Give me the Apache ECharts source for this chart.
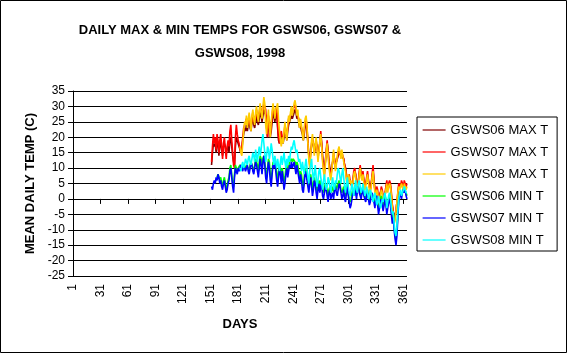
<!DOCTYPE html>
<html>
<head>
<meta charset="utf-8">
<script src="https://cdn.jsdelivr.net/npm/echarts@6/dist/echarts.min.js"></script>
<style>
  html, body { margin: 0; padding: 0; background: #fff; }
  #chart { width: 567px; height: 353px; }
</style>
</head>
<body>
<div id="chart"></div>
<script>
// days 1..365 on the category axis
const days = [];
for (let d = 1; d <= 365; d++) days.push(String(d));

const yTicks = [-25, -20, -15, -10, -5, 0, 5, 10, 15, 20, 25, 30, 35];

const seriesNames = ['GSWS06 MAX T', 'GSWS07 MAX T', 'GSWS08 MAX T', 'GSWS06 MIN T', 'GSWS07 MIN T', 'GSWS08 MIN T'];
const seriesColors = ['#800000', '#ff0000', '#ffcc00', '#00ff00', '#0000ff', '#00ffff'];

// first day of record for each series
const startDays = [152, 152, 183, 158, 152, 183];

// GSWS06 MAX T, day 152..365
const gsws06Max = [
  11, 15, 18, 17, 18, 15, 19, 18, 14,
  17, 19, 16, 14, 17, 18, 17, 15, 16, 18,
  15, 19, 20, 17, 14, 12, 11, 17, 20, 19,
  18, 17, 16, 15, 16, 19, 21, 23, 22, 24,
  22, 24, 26, 23, 22, 25, 26, 24, 23, 25,
  27, 25, 24, 26, 28, 27, 25, 27, 29, 28,
  27, 23, 20, 25, 23, 20, 22, 25, 28, 27,
  25, 27, 28, 23, 19, 18, 20, 21, 19, 18,
  20, 22, 21, 19, 22, 24, 25, 26, 27, 26,
  27, 28, 29, 28, 26, 27, 25, 23, 24, 22,
  21, 19, 21, 24, 25, 22, 18, 14, 12, 15,
  17, 19, 18, 15, 16, 18, 17, 14, 16, 18,
  21, 18, 14, 11, 9, 12, 15, 18, 16, 12,
  10, 8, 10, 12, 14, 13, 11, 12, 13, 14,
  15, 15, 14, 14, 14, 13, 11, 10, 8, 6,
  7, 7, 6, 5, 4, 6, 8, 9, 8, 5,
  4, 6, 8, 10, 8, 7, 8, 6, 4, 5,
  6, 8, 6, 4, 3, 5, 7, 9, 6, 3,
  2, 3, 3, 0, 1, 2, 3, 3, 1, -1,
  1, 3, 5, 3, 4, 5, 4, 1, -2, -4,
  -6, -6, -4, -1, 1, 4, 4, 4, 5, 5,
  3, 5, 5, 4, 4
];

// GSWS07 MAX T, day 152..365
const gsws07Max = [
  12, 17, 21, 18, 20, 16, 21, 19, 15,
  19, 21, 17, 13, 18, 20, 16, 13, 17, 19,
  17, 22, 24, 19, 15, 11, 10, 20, 24, 21,
  19, 18, 16, 15, 17, 20, 23, 24, 25, 26,
  24, 25, 27, 24, 23, 26, 28, 25, 25, 27,
  29, 26, 26, 28, 30, 29, 27, 29, 31, 30,
  29, 24, 20, 27, 24, 21, 24, 27, 30, 28,
  27, 29, 30, 24, 20, 18, 21, 22, 20, 19,
  21, 24, 22, 20, 23, 26, 26, 27, 29, 28,
  28, 30, 31, 29, 28, 28, 26, 24, 25, 23,
  22, 20, 22, 25, 26, 23, 19, 14, 11, 15,
  18, 20, 18, 15, 17, 19, 17, 13, 16, 18,
  22, 18, 13, 10, 8, 12, 16, 19, 15, 11,
  9, 7, 10, 12, 15, 13, 10, 12, 13, 15,
  16, 16, 14, 15, 15, 13, 11, 10, 7, 5,
  7, 8, 6, 5, 4, 6, 9, 10, 8, 5,
  4, 6, 9, 11, 8, 7, 9, 6, 4, 5,
  7, 9, 6, 4, 3, 5, 8, 11, 6, 3,
  2, 4, 3, 0, 1, 2, 4, 3, 1, -1,
  2, 4, 6, 3, 5, 6, 5, 2, -2, -5,
  -7, -6, -4, -1, 2, 5, 5, 4, 6, 5,
  3, 6, 5, 4, 5
];

// GSWS08 MAX T, day 183..365
const gsws08Max = [
  17, 15, 14, 18, 22, 25, 24, 27,
  23, 26, 28, 25, 22, 27, 29, 26, 24, 28,
  30, 27, 25, 29, 31, 28, 26, 30, 33, 31,
  24, 21, 26, 29, 23, 20, 25, 28, 31, 29,
  26, 29, 30, 31, 26, 22, 19, 17, 20, 18,
  22, 25, 21, 19, 24, 27, 25, 28, 30, 27,
  29, 31, 32, 30, 27, 29, 25, 23, 26, 24,
  21, 19, 23, 26, 27, 24, 18, 13, 10, 14,
  19, 21, 17, 14, 18, 20, 16, 12, 15, 19,
  21, 17, 12, 9, 7, 11, 15, 18, 14, 10,
  8, 6, 9, 13, 16, 12, 9, 11, 14, 16,
  17, 15, 13, 16, 14, 12, 10, 9, 6, 4,
  8, 7, 5, 6, 3, 5, 8, 9, 7, 4,
  3, 5, 8, 10, 7, 6, 8, 5, 3, 4,
  6, 8, 5, 3, 2, 4, 7, 9, 5, 2,
  1, 3, 2, -1, 0, 1, 3, 2, 0, -2,
  1, 3, 5, 2, 4, 5, 4, 1, -3, -6,
  -8, -7, -4, -1, 2, 4, 3, 3, 5, 4,
  2, 5, 4, 3, 4
];

// GSWS06 MIN T, day 158..365
const gsws06Min = [
  7, 8, 7,
  6, 7, 5, 4, 6, 7, 5, 3, 4, 6,
  7, 10, 11, 8, 5, 4, 8, 11, 10, 9,
  10, 10, 11, 11, 10, 10, 11, 11, 10, 11,
  11, 10, 9, 11, 12, 12, 10, 9, 11, 13,
  13, 11, 9, 12, 14, 13, 10, 13, 14, 12,
  9, 7, 10, 13, 12, 8, 6, 9, 12, 11,
  13, 11, 8, 6, 9, 11, 10, 7, 10, 8,
  5, 7, 10, 11, 9, 10, 12, 12, 13, 12,
  13, 13, 12, 10, 12, 11, 9, 7, 9, 8,
  5, 4, 7, 10, 9, 7, 6, 4, 7, 8,
  6, 3, 5, 7, 7, 4, 2, 5, 6, 4,
  6, 6, 3, 2, 4, 5, 4, 3, 1, 3,
  4, 2, 3, 4, 2, 4, 5, 3, 3, 5,
  6, 5, 3, 2, 3, 4, 2, 1, 3, 5,
  2, 0, -1, 0, 2, 3, 2, 4, 3, 1,
  3, 4, 3, 2, 1, 3, 4, 2, 1, 0,
  2, 3, 1, -1, 0, 2, 2, 1, 0, -2,
  1, 1, -1, -3, -2, 0, 1, -1, -3, -1,
  1, 0, -3, -2, 0, 1, -1, -4, -6, -5,
  -9, -12, -13, -10, -5, 0, 1, 2, 1, 2,
  3, 3, 3, 2, 1
];

// GSWS07 MIN T, day 152..365
const gsws07Min = [
  4, 3, 5, 6, 5, 7, 6, 8, 7,
  5, 6, 4, 3, 5, 6, 4, 2, 3, 5,
  6, 9, 10, 7, 4, 2, 7, 10, 9, 8,
  10, 9, 10, 11, 10, 9, 11, 10, 9, 10,
  11, 9, 8, 10, 12, 11, 9, 8, 10, 12,
  11, 9, 7, 10, 13, 11, 8, 12, 14, 11,
  7, 5, 9, 12, 10, 6, 4, 8, 11, 10,
  12, 9, 6, 4, 7, 10, 8, 5, 9, 6,
  3, 5, 8, 10, 7, 9, 11, 10, 12, 10,
  11, 12, 10, 8, 11, 9, 7, 5, 8, 6,
  3, 2, 5, 9, 8, 6, 4, 2, 5, 7,
  4, 1, 3, 6, 5, 2, 0, 3, 5, 2,
  4, 5, 1, 0, 2, 4, 3, 1, -1, 2,
  3, 0, 1, 2, 0, 3, 4, 2, 1, 3,
  5, 4, 2, 0, 1, 3, 0, -1, 2, 4,
  1, -1, -3, -2, 0, 2, 1, 3, 2, 0,
  3, 4, 2, 1, 0, 2, 3, 1, 0, -1,
  1, 2, 0, -2, -1, 1, 2, 0, -1, -3,
  0, 1, -2, -5, -3, -1, 0, -2, -4, -2,
  0, -2, -5, -3, -1, 0, -2, -5, -8, -6,
  -10, -13, -15, -12, -6, -1, 1, 2, 0, 2,
  3, 2, 3, 1, 0
];

// GSWS08 MIN T, day 183..365
const gsws08Min = [
  10, 9, 11, 12, 10, 11, 13, 12,
  11, 13, 14, 12, 11, 13, 15, 14, 12, 16,
  14, 12, 15, 17, 14, 16, 19, 21, 18, 15,
  12, 14, 17, 16, 13, 15, 18, 16, 13, 11,
  14, 12, 10, 13, 11, 9, 12, 14, 11, 13,
  15, 12, 10, 13, 11, 14, 12, 15, 17, 16,
  18, 19, 17, 15, 16, 14, 12, 13, 11, 9,
  12, 10, 8, 11, 13, 10, 7, 5, 9, 11,
  13, 9, 6, 8, 11, 7, 4, 6, 9, 10,
  7, 5, 3, 6, 8, 5, 3, 4, 7, 6,
  4, 2, 5, 7, 4, 3, 6, 5, 8, 10,
  9, 7, 5, 8, 10, 7, 4, 2, 5, 7,
  4, 2, 1, 3, 5, 3, 1, 4, 6, 3,
  2, 5, 6, 4, 2, 3, 5, 3, 1, 2,
  4, 2, 0, 1, 3, 2, 0, -1, 1, 2,
  0, -2, -1, 1, -1, -3, -2, 0, -1, 1,
  2, 0, -3, -1, 1, 2, 0, -3, -5, -4,
  -8, -11, -12, -9, -4, 0, 2, 3, 1, 2,
  3, 4, 3, 2, 2
];

const seriesValues = [gsws06Max, gsws07Max, gsws08Max, gsws06Min, gsws07Min, gsws08Min];

const font = "'Liberation Sans', Arial, sans-serif";

const chart = echarts.init(document.getElementById('chart'), null, { renderer: 'canvas' });

const series = seriesNames.map((name, i) => ({
  name: name,
  type: 'line',
  symbol: 'none',
  animation: false,
  // leading days without records are left empty
  data: new Array(startDays[i] - 1).fill(null).concat(seriesValues[i]),
  lineStyle: { color: seriesColors[i], width: 1.6 },
  itemStyle: { color: seriesColors[i] }
}));

chart.setOption({
  backgroundColor: '#ffffff',
  animation: false,
  textStyle: { fontFamily: font },
  title: {
    text: 'DAILY MAX & MIN TEMPS FOR GSWS06, GSWS07 &\nGSWS08, 1998',
    left: 240,
    top: 19,
    padding: 0,
    textAlign: 'center',
    textStyle: { fontFamily: font, fontSize: 13, fontWeight: 'bold', color: '#000', lineHeight: 23 }
  },
  legend: {
    orient: 'vertical',
    left: 417,
    top: 117,
    padding: [6, 9, 4, 5],
    itemGap: 8,
    itemWidth: 23,
    itemHeight: 14,
    borderColor: '#000',
    borderWidth: 1,
    borderRadius: 0,
    backgroundColor: '#fff',
    // only the line sample, no marker
    itemStyle: { opacity: 0 },
    lineStyle: { width: 1.2 },
    data: seriesNames,
    textStyle: { fontFamily: font, fontSize: 13, color: '#000', lineHeight: 14 }
  },
  grid: { left: 73, right: 160, top: 91, bottom: 77, containLabel: false },
  xAxis: {
    type: 'category',
    data: days,
    boundaryGap: false,
    name: 'DAYS',
    nameLocation: 'middle',
    nameGap: 42,
    nameTextStyle: { fontFamily: font, fontSize: 13, fontWeight: 'bold', color: '#000' },
    axisLine: { lineStyle: { color: '#000', width: 1 } },
    axisTick: { interval: 29, length: 5, lineStyle: { color: '#000' } },
    axisLabel: { interval: 29, rotate: 90, margin: 8, fontFamily: font, fontSize: 12, color: '#000' },
    splitLine: { show: false }
  },
  yAxis: {
    type: 'value',
    min: yTicks[0],
    max: yTicks[yTicks.length - 1],
    interval: 5,
    name: 'MEAN DAILY TEMP (C)',
    nameLocation: 'middle',
    nameGap: 33,
    nameRotate: 90,
    nameTextStyle: { fontFamily: font, fontSize: 13, fontWeight: 'bold', color: '#000' },
    axisLine: { show: true, lineStyle: { color: '#000', width: 1 } },
    axisTick: { show: true, length: 5, lineStyle: { color: '#000' } },
    axisLabel: { margin: 8, fontFamily: font, fontSize: 12, color: '#000' },
    splitLine: { show: true, lineStyle: { color: '#000', width: 1 } }
  },
  graphic: [{
    type: 'rect',
    shape: { x: 0.5, y: 0.5, width: 566, height: 352 },
    style: { fill: null, stroke: '#000', lineWidth: 1 },
    silent: true
  }],
  series: series
});
</script>
</body>
</html>
